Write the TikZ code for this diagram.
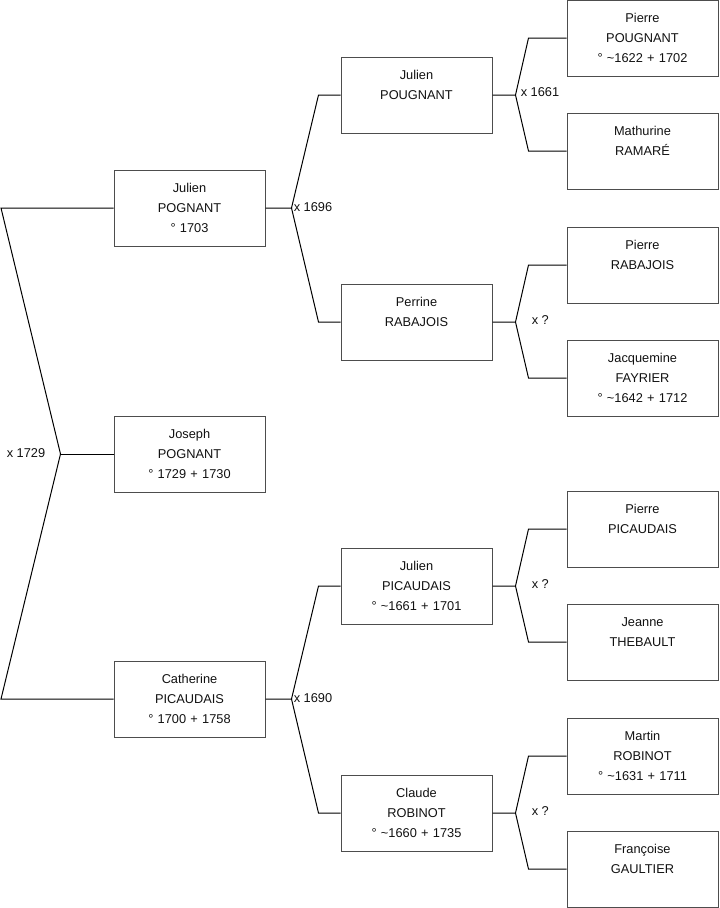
\documentclass[tikz,border=0pt]{standalone}
\usepackage{fontspec}
\setmainfont{Liberation Sans}
\usetikzlibrary{calc}
\definecolor{boxgray}{HTML}{4D4D4D}
\definecolor{txtgray}{HTML}{111111}
\begin{document}
\begin{tikzpicture}[x=0.75pt,y=-0.75pt,
  pbox/.style={draw=boxgray, line width=0.75pt, minimum width=113.25pt, minimum height=57pt,
    inner sep=0pt, text width=110pt, align=center, text=txtgray,
    font=\fontsize{9.6}{14.8}\selectfont},
  conn/.style={draw=black, line width=0.75pt},
  xlab/.style={inner sep=0pt, text=txtgray, font=\fontsize{9.6}{11}\selectfont}]
\useasboundingbox (0,0) rectangle (719,908);
% generation 1
\node[pbox] (jpog) at (189.5,208) {Julien\\POGNANT\\° 1703};
\node[pbox] (jos) at (189.5,454) {Joseph\\POGNANT\\° 1729 + 1730};
\node[pbox] (cat) at (189.5,699) {Catherine\\PICAUDAIS\\° 1700 + 1758};
% generation 2
\node[pbox] (jpou) at (416.5,95) {Julien\\POUGNANT\\\mbox{}};
\node[pbox] (per) at (416.5,322) {Perrine\\RABAJOIS\\\mbox{}};
\node[pbox] (jpic) at (416.5,586) {Julien\\PICAUDAIS\\° \textasciitilde 1661 + 1701};
\node[pbox] (cla) at (416.5,813) {Claude\\ROBINOT\\° \textasciitilde 1660 + 1735};
% generation 3
\node[pbox] (ppou) at (642.5,38) {Pierre\\POUGNANT\\° \textasciitilde 1622 + 1702};
\node[pbox] (mat) at (642.5,151) {Mathurine\\RAMARÉ\\\mbox{}};
\node[pbox] (prab) at (642.5,265) {Pierre\\RABAJOIS\\\mbox{}};
\node[pbox] (jac) at (642.5,378) {Jacquemine\\FAYRIER\\° \textasciitilde 1642 + 1712};
\node[pbox] (ppic) at (642.5,529) {Pierre\\PICAUDAIS\\\mbox{}};
\node[pbox] (jea) at (642.5,642) {Jeanne\\THEBAULT\\\mbox{}};
\node[pbox] (mar) at (642.5,756) {Martin\\ROBINOT\\° \textasciitilde 1631 + 1711};
\node[pbox] (fra) at (642.5,869) {Françoise\\GAULTIER\\\mbox{}};

% left bracket
\coordinate (L) at (1,0);
\coordinate (t0) at (L |- jpog.west);
\coordinate (b0) at (L |- cat.west);
\coordinate (m0) at ($(jos.west)+(-53,0)$);
\draw[conn] (jpog.west) -- (t0) -- (m0) -- (b0) -- (cat.west);
\draw[conn] (m0) -- (jos.west);
\node[xlab, anchor=east] at ($(m0)+(-15,-1)$) {x 1729};

% gen1 -> gen2
\coordinate (j1) at ($(jpog.east)+(26,0)$);
\coordinate (u1) at ($(jpou.west)+(-22,0)$);
\coordinate (d1) at ($(per.west)+(-22,0)$);
\draw[conn] (jpog.east) -- (j1) -- (u1) -- (jpou.west);
\draw[conn] (j1) -- (d1) -- (per.west);
\node[xlab, anchor=west] at ($(j1)+(2,-1)$) {x 1696};

\coordinate (j2) at ($(cat.east)+(26,0)$);
\coordinate (u2) at ($(jpic.west)+(-22,0)$);
\coordinate (d2) at ($(cla.west)+(-22,0)$);
\draw[conn] (cat.east) -- (j2) -- (u2) -- (jpic.west);
\draw[conn] (j2) -- (d2) -- (cla.west);
\node[xlab, anchor=west] at ($(j2)+(2,-1)$) {x 1690};

% gen2 -> gen3
\coordinate (j3) at ($(jpou.east)+(23,0)$);
\coordinate (u3) at ($(ppou.west)+(-38,0)$);
\coordinate (d3) at ($(mat.west)+(-38,0)$);
\draw[conn] (jpou.east) -- (j3) -- (u3) -- (ppou.west);
\draw[conn] (j3) -- (d3) -- (mat.west);
\node[xlab, anchor=west] at ($(j3)+(5,-3)$) {x 1661};

\coordinate (j4) at ($(per.east)+(23,0)$);
\coordinate (u4) at ($(prab.west)+(-38,0)$);
\coordinate (d4) at ($(jac.west)+(-38,0)$);
\draw[conn] (per.east) -- (j4) -- (u4) -- (prab.west);
\draw[conn] (j4) -- (d4) -- (jac.west);
\node[xlab, anchor=west] at ($(j4)+(16,-2)$) {x ?};

\coordinate (j5) at ($(jpic.east)+(23,0)$);
\coordinate (u5) at ($(ppic.west)+(-38,0)$);
\coordinate (d5) at ($(jea.west)+(-38,0)$);
\draw[conn] (jpic.east) -- (j5) -- (u5) -- (ppic.west);
\draw[conn] (j5) -- (d5) -- (jea.west);
\node[xlab, anchor=west] at ($(j5)+(16,-2)$) {x ?};

\coordinate (j6) at ($(cla.east)+(23,0)$);
\coordinate (u6) at ($(mar.west)+(-38,0)$);
\coordinate (d6) at ($(fra.west)+(-38,0)$);
\draw[conn] (cla.east) -- (j6) -- (u6) -- (mar.west);
\draw[conn] (j6) -- (d6) -- (fra.west);
\node[xlab, anchor=west] at ($(j6)+(16,-2)$) {x ?};
\end{tikzpicture}
\end{document}
